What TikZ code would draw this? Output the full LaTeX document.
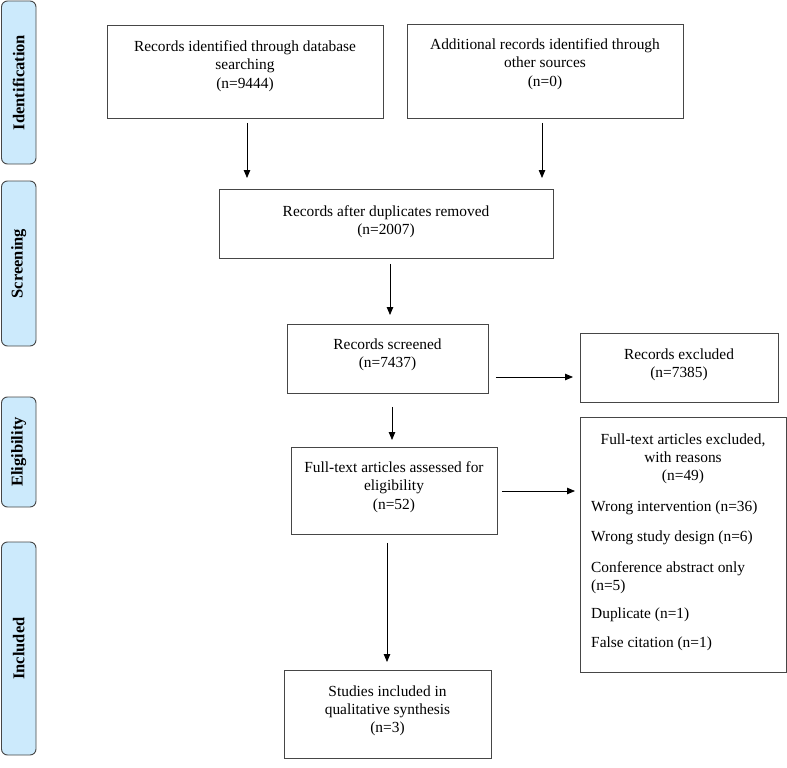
\documentclass[tikz,border=0pt]{standalone}
\usepackage{fontspec}
\setmainfont{Liberation Serif}
\usetikzlibrary{arrows.meta}
\definecolor{sideblue}{RGB}{204,234,252}
\definecolor{edgegray}{RGB}{70,70,70}
\begin{document}
\begin{tikzpicture}[x=1pt,y=-1pt,
  box/.style={draw=edgegray, line width=0.9pt, anchor=north west, inner sep=0pt},
  side/.style={draw=edgegray, fill=sideblue, rounded corners=6pt, line width=0.9pt, rotate=90,
    minimum height=34.5pt, inner sep=0pt, font=\fontsize{16.5}{20}\selectfont\bfseries},
  txt/.style={align=center, anchor=north, inner sep=0pt, font=\fontsize{15.4}{18.3}\selectfont},
  ltxt/.style={align=left, anchor=north west, inner sep=0pt, font=\fontsize{15.4}{18.3}\selectfont},
  arr/.style={-{Triangle[length=8pt,width=6.5pt]}, line width=0.8pt, black}]
\useasboundingbox (0,0) rectangle (787,768);

% side labels
\node[side, minimum width=163pt] (s1) at (18.75,82.5) {Identification};
\node[side, minimum width=165pt] (s2) at (18.75,263.5) {Screening};
\node[side, minimum width=110pt] (s3) at (18.75,452) {Eligibility};
\node[side, minimum width=213pt] (s4) at (18.75,648.5) {Included};

% boxes
\node[box, minimum width=276pt, minimum height=93pt] (b1) at (107,25) {};
\node[box, minimum width=276pt, minimum height=94pt] (b2) at (407,24) {};
\node[box, minimum width=334pt, minimum height=69pt] (b3) at (219,189) {};
\node[box, minimum width=201pt, minimum height=69pt] (b4) at (287,324) {};
\node[box, minimum width=198pt, minimum height=69pt] (b5) at (580,333) {};
\node[box, minimum width=206pt, minimum height=87pt] (b6) at (291,447) {};
\node[box, minimum width=206pt, minimum height=255pt] (b7) at (580,417) {};
\node[box, minimum width=207pt, minimum height=88pt] (b8) at (284,670) {};

% texts
\node[txt] (t1) at (245,40.5) {Records identified through database\\searching\\(n=9444)};
\node[txt] (t2) at (545,38.5) {Additional records identified through\\other sources\\(n=0)};
\node[txt] (t3) at (386,205.5) {Records after duplicates removed\\(n=2007)};
\node[txt] (t4) at (387.5,338.5) {Records screened\\(n=7437)};
\node[txt] (t5) at (679,348.5) {Records excluded\\(n=7385)};
\node[txt] (t6) at (394,461.5) {Full-text articles assessed for\\eligibility\\(n=52)};
\node[txt] (t8) at (387.5,685.5) {Studies included in\\qualitative synthesis\\(n=3)};
\node[txt] (t7) at (683,433.5) {Full-text articles excluded,\\with reasons\\(n=49)};
\node[ltxt] (r1) at (591,500.5) {Wrong intervention (n=36)};
\node[ltxt] (r2) at (591,530.5) {Wrong study design (n=6)};
\node[ltxt] (r3) at (591,561.5) {Conference abstract only\\(n=5)};
\node[ltxt] (r4) at (591,607.5) {Duplicate (n=1)};
\node[ltxt] (r5) at (591,636.5) {False citation (n=1)};

% arrows
\draw[arr, shorten <=4pt, shorten >=11pt] (b1.south -| 247,0) -- (b3.north -| 247,0);
\draw[arr, shorten <=4pt, shorten >=11pt] (b2.south -| 542,0) -- (b3.north -| 542,0);
\draw[arr, shorten <=5pt, shorten >=9pt] (b3.south -| 390,0) -- (b4.north -| 390,0);
\draw[arr, shorten <=7pt, shorten >=7pt] (b4.east |- 0,377) -- (b5.west |- 0,377);
\draw[arr, shorten <=13pt, shorten >=7pt] (b4.south -| 392,0) -- (b6.north -| 392,0);
\draw[arr, shorten <=4pt, shorten >=5pt] (b6.east |- 0,491) -- (b7.west |- 0,491);
\draw[arr, shorten <=8pt, shorten >=8pt] (b6.south -| 387,0) -- (b8.north -| 387,0);
\end{tikzpicture}
\end{document}
